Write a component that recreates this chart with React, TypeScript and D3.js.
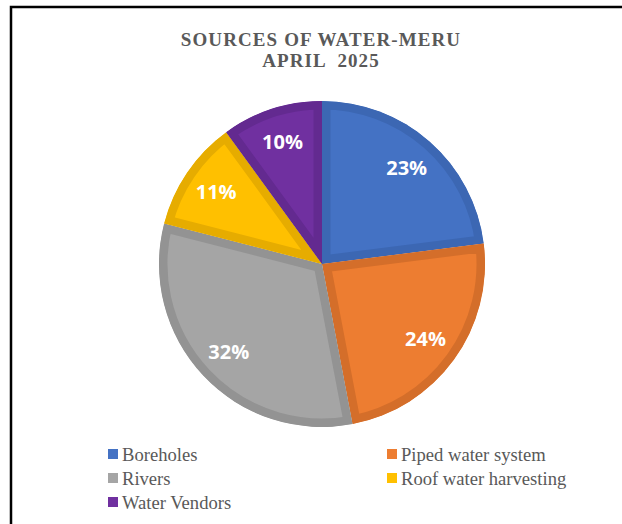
import React, { useEffect, useRef } from 'react';
import * as d3 from 'd3';

const categories = ['Boreholes', 'Piped water system', 'Rivers', 'Roof water harvesting', 'Water Vendors'];
const shares = [23, 24, 32, 11, 10];
const fills = ['#4472C4', '#ED7D31', '#A5A5A5', '#FFC000', '#7030A0'];
const edges = ['#3C67B3', '#D46E2A', '#939393', '#E6AC00', '#632A90'];
const titleLines = ['SOURCES OF WATER-MERU', 'APRIL  2025'];

const W = 622;
const H = 524;

const App: React.FC = () => {
  const svgRef = useRef<SVGSVGElement>(null);

  useEffect(() => {
    if (!svgRef.current) return;
    const svg = d3.select(svgRef.current);
    svg.selectAll('*').remove();

    svg.append('rect').attr('width', W).attr('height', H).attr('fill', '#fff');

    // outer frame (cut off at right / bottom)
    svg.append('rect')
      .attr('x', 11).attr('y', 7)
      .attr('width', W + 20).attr('height', H + 20)
      .attr('fill', 'none').attr('stroke', '#000').attr('stroke-width', 2.5);

    // title
    svg.append('g')
      .selectAll('text')
      .data(titleLines)
      .enter()
      .append('text')
      .attr('x', 321)
      .attr('y', (d, i) => 46 + i * 21)
      .attr('text-anchor', 'middle')
      .attr('font-family', '"Liberation Serif", "Times New Roman", serif')
      .attr('font-weight', 'bold')
      .attr('font-size', 19)
      .attr('letter-spacing', 1.1)
      .attr('fill', '#595959')
      .style('white-space', 'pre')
      .text(d => d);

    // pie
    const cx = 322, cy = 264, r = 163;
    const pie = d3.pie<number>().sort(null).value(d => d);
    const arcs = pie(shares);
    const arc = d3.arc<d3.PieArcDatum<number>>().innerRadius(0).outerRadius(r);
    const labelArc = d3.arc<d3.PieArcDatum<number>>().innerRadius(128).outerRadius(128);

    const g = svg.append('g').attr('transform', `translate(${cx},${cy})`);
    const defs = svg.append('defs');
    arcs.forEach((a, i) => {
      defs.append('clipPath').attr('id', `slice-clip-${i}`)
        .append('path').attr('d', arc(a) as string);
    });

    g.selectAll('path.slice')
      .data(arcs)
      .enter()
      .append('path')
      .attr('class', 'slice')
      .attr('d', d => arc(d) as string)
      .attr('fill', (d, i) => fills[i])
      .attr('stroke', (d, i) => edges[i])
      .attr('stroke-width', 17)
      .attr('stroke-linejoin', 'miter')
      .attr('clip-path', (d, i) => `url(#slice-clip-${i})`);

    g.selectAll('text.lbl')
      .data(arcs)
      .enter()
      .append('text')
      .attr('class', 'lbl')
      .attr('transform', d => `translate(${labelArc.centroid(d)})`)
      .attr('text-anchor', 'middle')
      .attr('dy', '0.36em')
      .attr('font-family', '"Open Sans", "Noto Sans", sans-serif')
      .attr('font-weight', 'bold')
      .attr('font-size', 20)
      .attr('fill', '#fff')
      .text(d => `${d.data}%`);

    // legend
    const leg = svg.append('g');
    const item = leg.selectAll('g')
      .data(categories)
      .enter()
      .append('g')
      .attr('transform', (d, i) => `translate(${i % 2 === 0 ? 108 : 387},${454 + Math.floor(i / 2) * 24})`);
    item.append('rect')
      .attr('x', 0).attr('y', -5)
      .attr('width', 10).attr('height', 10)
      .attr('fill', (d, i) => fills[i]);
    item.append('text')
      .attr('x', 14)
      .attr('y', 0)
      .attr('dy', '0.35em')
      .attr('font-family', '"Liberation Serif", "Times New Roman", serif')
      .attr('font-size', 18.6)
      .attr('fill', '#595959')
      .text(d => d);
  }, []);

  return (
    <svg
      ref={svgRef}
      width={W}
      height={H}
      style={{ position: 'absolute', left: 0, top: 0, display: 'block' }}
    />
  );
};

export default App;
